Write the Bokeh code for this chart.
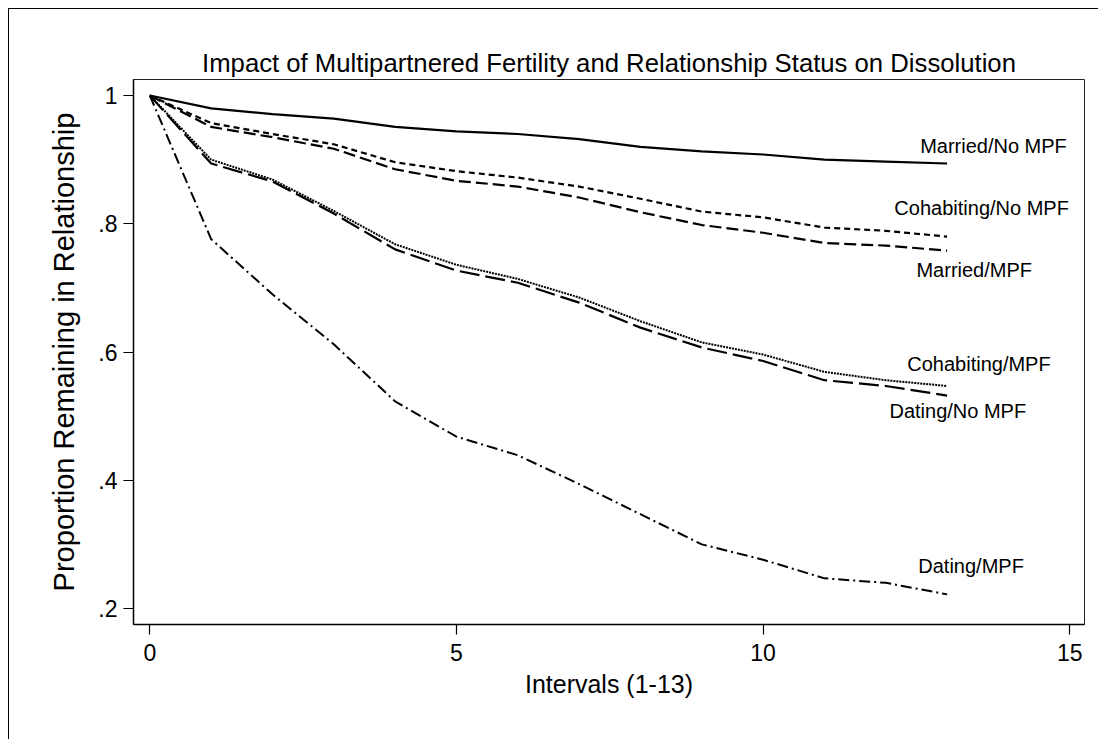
from bokeh.plotting import figure
from bokeh.models import FixedTicker, Range1d
from bokeh.core.properties import value
from bokeh.embed import file_html
from bokeh.resources import INLINE

# ---- data ----
intervals = list(range(14))
married_nompf = [1.0, 0.980, 0.971, 0.964, 0.951, 0.944, 0.940, 0.932, 0.920, 0.913, 0.908, 0.900, 0.897, 0.894]
cohab_nompf   = [1.0, 0.957, 0.940, 0.924, 0.896, 0.882, 0.872, 0.858, 0.839, 0.819, 0.810, 0.794, 0.789, 0.780]
married_mpf   = [1.0, 0.951, 0.935, 0.917, 0.885, 0.867, 0.858, 0.841, 0.818, 0.798, 0.786, 0.770, 0.766, 0.758]
cohab_mpf     = [1.0, 0.900, 0.869, 0.820, 0.768, 0.736, 0.714, 0.685, 0.648, 0.615, 0.596, 0.569, 0.556, 0.547]
dating_nompf  = [1.0, 0.894, 0.866, 0.816, 0.760, 0.727, 0.708, 0.677, 0.638, 0.607, 0.586, 0.556, 0.547, 0.532]
dating_mpf    = [1.0, 0.776, 0.690, 0.612, 0.523, 0.468, 0.439, 0.394, 0.347, 0.300, 0.276, 0.247, 0.240, 0.222]

series_names = ["Married/No MPF", "Cohabiting/No MPF", "Married/MPF",
                "Cohabiting/MPF", "Dating/No MPF", "Dating/MPF"]
series_values = [married_nompf, cohab_nompf, married_mpf, cohab_mpf, dating_nompf, dating_mpf]

x_ticks = [0, 5, 10, 15]
y_ticks = [0.2, 0.4, 0.6, 0.8, 1.0]
y_tick_labels = [".2", ".4", ".6", ".8", "1"]

# ---- styles ----
dashes = ["solid", "6 4", "12 5", "2 1", "20 6", "11 4 2 4"]
widths = [2.2, 2.2, 2.2, 2.0, 2.2, 2.0]
label_pos = [(12.56, 0.922), (12.14, 0.825), (12.50, 0.728),
             (12.35, 0.581), (12.06, 0.508), (12.53, 0.267)]

FONT = "Liberation Sans"

p = figure(width=1090, height=731, output_backend="svg", toolbar_location=None,
           x_range=Range1d(-0.266, 15.24), y_range=Range1d(0.175, 1.025),
           title="Impact of Multipartnered Fertility and Relationship Status on Dissolution")
p.styles = {"border-left": "1px solid black", "border-top": "1px solid black",
            "margin-left": "8px", "margin-top": "8px"}
p.min_border_left = 124
p.min_border_right = 15
p.min_border_top = 70
p.min_border_bottom = 116

p.title.text_font = FONT
p.title.text_font_size = "25.7px"
p.title.text_font_style = "normal"
p.title.align = "center"
p.title.text_color = "black"
p.title.standoff = 5

p.xgrid.visible = False
p.ygrid.visible = False
p.outline_line_color = "#222222"
p.outline_line_width = 1
p.background_fill_color = "white"
p.border_fill_color = "white"

for ax in (p.xaxis[0], p.yaxis[0]):
    ax.axis_line_color = "black"
    ax.axis_line_width = 1.5
    ax.major_tick_line_color = "black"
    ax.major_tick_line_width = 1.2
    ax.major_tick_in = 0
    ax.major_tick_out = 10
    ax.minor_tick_line_color = None
    ax.major_label_text_font = FONT
    ax.major_label_text_font_size = "23px"
    ax.major_label_text_color = "black"
    ax.axis_label_text_font = FONT
    ax.axis_label_text_font_style = "normal"
    ax.axis_label_text_color = "black"

p.xaxis[0].ticker = FixedTicker(ticks=x_ticks)
p.xaxis[0].major_label_standoff = 9
p.xaxis[0].axis_label = "Intervals (1-13)"
p.xaxis[0].axis_label_text_font_size = "25px"
p.xaxis[0].axis_label_standoff = 6

p.yaxis[0].ticker = FixedTicker(ticks=y_ticks)
p.yaxis[0].major_label_overrides = {t: l for t, l in zip(y_ticks, y_tick_labels)}
p.yaxis[0].major_label_standoff = 6
p.yaxis[0].axis_label = "Proportion Remaining in Relationship"
p.yaxis[0].axis_label_text_font_size = "29px"
p.yaxis[0].axis_label_standoff = 15

for name, vals, dash, w in zip(series_names, series_values, dashes, widths):
    p.line(intervals, vals, line_color="black", line_width=w, line_dash=dash)

p.text(x=[lp[0] for lp in label_pos], y=[lp[1] for lp in label_pos], text=series_names,
       text_font=value(FONT), text_font_size="20px", text_color="black",
       text_align="left", text_baseline="middle")

open("out.html", "w").write(file_html(p, INLINE))
